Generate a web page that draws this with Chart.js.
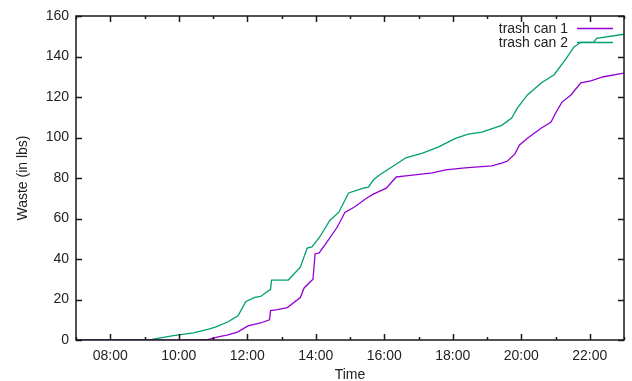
<!DOCTYPE html>
<html>
<head>
<meta charset="utf-8">
<script src="https://cdn.jsdelivr.net/npm/chart.js@4.4.1/dist/chart.umd.min.js"></script>
<style>
  html, body { margin: 0; padding: 0; background: #fff; }
  canvas { display: block; }
</style>
</head>
<body>
<canvas id="wasteChart" width="632" height="381"></canvas>
<script>
// time in hours of the day, values in lbs
const can1Hours = [7.0, 10.52, 10.87, 11.15, 11.44, 11.73, 12.02, 12.39, 12.65, 12.68, 12.88, 13.17, 13.55, 13.66, 13.92, 13.98,
  14.10, 14.33, 14.61, 14.76, 14.85, 15.13, 15.48, 15.68, 16.06, 16.35, 16.63, 17.41, 17.79, 18.36, 19.14, 19.43,
  19.60, 19.81, 19.95, 20.18, 20.59, 20.87, 21.02, 21.19, 21.45, 21.74, 22.03, 22.40, 23.0];
const can1Waste = [0, 0, 0.3, 1.5, 2.5, 4, 7, 8.4, 10, 14.5, 15, 16, 21, 25.7, 30, 42.5,
  43, 48.4, 55.3, 60, 63, 65.7, 70, 72, 75, 80.5, 81, 82.5, 84, 85, 86, 87.4,
  88.4, 91.8, 96.3, 99.6, 104.7, 107.6, 112.6, 117.5, 121, 127, 128, 130, 131.8];

const can2Hours = [7.0, 9.0, 9.22, 9.80, 10.0, 10.43, 10.87, 11.07, 11.44, 11.73, 11.96, 12.22, 12.39, 12.68, 12.71, 13.20,
  13.55, 13.75, 13.89, 14.12, 14.41, 14.67, 14.96, 15.39, 15.54, 15.68, 15.86, 16.40, 16.63, 17.12, 17.59, 18.08,
  18.45, 18.85, 19.43, 19.72, 19.89, 20.18, 20.59, 20.96, 21.31, 21.54, 21.74, 22.11, 22.20, 23.0];
const can2Waste = [0, 0, 0.3, 2, 2.5, 3.5, 5.4, 6.4, 9, 12, 19, 21, 21.5, 25, 29.6, 29.6,
  36, 45.4, 46, 51, 59, 63, 72.6, 75, 75.5, 79, 81.5, 87.4, 90, 92.3, 95.4, 99.6,
  101.7, 102.7, 106, 109.6, 114.6, 121, 127, 131, 139, 144.7, 147, 147, 149, 151];

const seriesLabels = ["trash can 1", "trash can 2"];
const seriesColors = ["#9400d3", "#009e73"];

const FONT = "Liberation Sans, Arial, Helvetica, sans-serif";

function pad2(n) { return (n < 10 ? "0" : "") + n; }

// gnuplot style frame with inward ticks mirrored on all four sides
const frameTicks = {
  id: "frameTicks",
  afterDatasetsDraw(chart) {
    const { ctx, chartArea: a, scales } = chart;
    ctx.save();
    ctx.strokeStyle = "#1a1a1a";
    ctx.lineWidth = 1.5;
    ctx.beginPath();
    scales.x.ticks.forEach(t => {
      const px = Math.round(scales.x.getPixelForValue(t.value)) + 0.5;
      const len = t.value % 2 === 0 ? 6 : 3;
      ctx.moveTo(px, a.bottom); ctx.lineTo(px, a.bottom - len);
      ctx.moveTo(px, a.top); ctx.lineTo(px, a.top + len);
    });
    scales.y.ticks.forEach(t => {
      const py = Math.round(scales.y.getPixelForValue(t.value)) + 0.5;
      ctx.moveTo(a.left, py); ctx.lineTo(a.left + 6, py);
      ctx.moveTo(a.right, py); ctx.lineTo(a.right - 6, py);
    });
    ctx.stroke();
    ctx.strokeRect(a.left, a.top, a.right - a.left, a.bottom - a.top);
    ctx.restore();
  }
};

// key in the top right corner: label then sample line
const cornerKey = {
  id: "cornerKey",
  afterDatasetsDraw(chart) {
    const { ctx } = chart;
    ctx.save();
    ctx.font = "14px " + FONT;
    ctx.textAlign = "right";
    ctx.textBaseline = "middle";
    chart.data.datasets.forEach((ds, i) => {
      const y = 28.5 + i * 14;
      ctx.fillStyle = "#222";
      ctx.fillText(ds.label, 568, y + 1);
      ctx.strokeStyle = ds.borderColor;
      ctx.lineWidth = 1.3;
      ctx.beginPath();
      ctx.moveTo(577, y); ctx.lineTo(613, y);
      ctx.stroke();
    });
    ctx.restore();
  }
};

const toPoints = (hs, vs) => hs.map((h, i) => ({ x: h, y: vs[i] }));

new Chart(document.getElementById("wasteChart").getContext("2d"), {
  type: "line",
  data: {
    datasets: [
      {
        label: seriesLabels[0],
        data: toPoints(can1Hours, can1Waste),
        borderColor: seriesColors[0],
        borderWidth: 1.3,
        pointRadius: 0,
        fill: false,
        tension: 0,
      },
      {
        label: seriesLabels[1],
        data: toPoints(can2Hours, can2Waste),
        borderColor: seriesColors[1],
        borderWidth: 1.3,
        pointRadius: 0,
        fill: false,
        tension: 0,
      },
    ],
  },
  options: {
    responsive: false,
    animation: false,
    devicePixelRatio: 1,
    layout: { padding: { left: 0, top: 16, right: 2, bottom: 0 } },
    plugins: {
      legend: { display: false },
      tooltip: { enabled: false },
    },
    scales: {
      x: {
        type: "linear",
        min: 7,
        max: 23,
        afterFit: s => { s.height = 41; },
        grid: { display: false, drawTicks: false },
        border: { display: false },
        ticks: {
          stepSize: 1,
          autoSkip: false,
          maxRotation: 0,
          padding: 8,
          color: "#222",
          font: { family: FONT, size: 14 },
          callback: v => (v % 2 === 0 && v > 7 && v < 23 ? pad2(v) + ":00" : ""),
        },
        title: {
          display: true,
          text: "Time",
          color: "#222",
          font: { family: FONT, size: 14 },
          padding: { top: 0, bottom: -3 },
        },
      },
      y: {
        min: 0,
        max: 160,
        afterFit: s => { s.width = 76; },
        grid: { display: false, drawTicks: false },
        border: { display: false },
        ticks: {
          stepSize: 20,
          padding: 7,
          color: "#222",
          font: { family: FONT, size: 14 },
        },
        title: {
          display: true,
          text: "Waste (in lbs)",
          color: "#222",
          font: { family: FONT, size: 14 },
          padding: { top: 15, bottom: 0 },
        },
      },
    },
  },
  plugins: [frameTicks, cornerKey],
});
</script>
</body>
</html>
